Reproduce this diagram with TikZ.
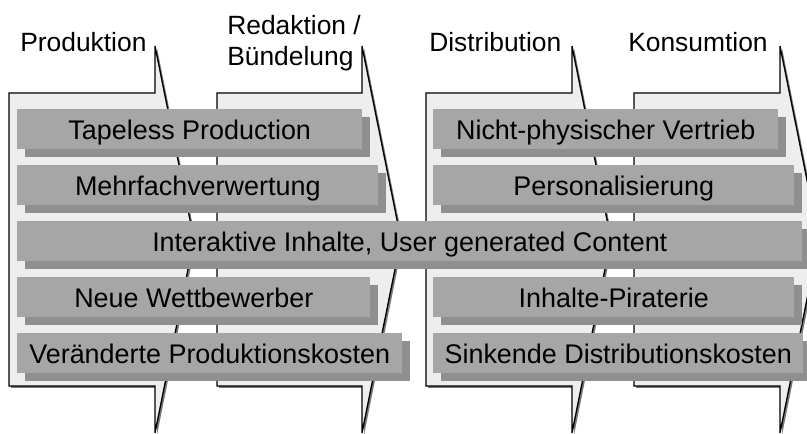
\documentclass[tikz,border=0pt]{standalone}
\usepackage{fontspec}
\setmainfont{Liberation Sans}
\usetikzlibrary{shadows}
\definecolor{stagefill}{RGB}{238,238,238}
\definecolor{stageshadow}{RGB}{120,120,120}
\definecolor{boxfill}{RGB}{166,166,166}
\definecolor{boxshadow}{RGB}{143,143,143}
\newcommand\stageshape[2]{%
  \fill[stageshadow, shift={(2,2)}] (#1,93) -- (#2,93) -- (#2,46) -- ({#2+39},239.5) -- (#2,433) -- (#2,386) -- (#1,386) -- cycle;
  \draw[fill=stagefill, line width=1pt, line join=miter] (#1,93) -- (#2,93) -- (#2,46) -- ({#2+39},239.5) -- (#2,433) -- (#2,386) -- (#1,386) -- cycle;}
\begin{document}
\begin{tikzpicture}[x=0.75pt,y=-0.75pt,
  lbl/.style={font=\fontsize{19.8}{23}\selectfont, inner sep=0pt, anchor=base west},
  itembox/.style={rectangle, fill=boxfill, inner sep=0pt, anchor=north west,
    minimum height=29.625pt, text height=22.875pt, text depth=6.75pt,
    font=\fontsize{20.2}{23}\selectfont,
    drop shadow={shadow xshift=6pt, shadow yshift=-6pt, opacity=1, fill=boxshadow}}]
\useasboundingbox (0,0) rectangle (807,434);
\clip (0,0) rectangle (807,434);
\fill[white] (0,0) rectangle (807,434);
% stages
\stageshape{9}{155}
\stageshape{217}{362}
\stageshape{426}{572}
\stageshape{634}{780}
% stage labels
\node[lbl] (produktion) at (20,52) {Produktion};
\node[lbl] (redaktion) at (227,35) {Redaktion /};
\node[lbl] (buendelung) at (227,66) {Bündelung};
\node[lbl] (distribution) at (429,52) {Distribution};
\node[lbl] (konsumtion) at (628,52) {Konsumtion};
% left column
\node[itembox, minimum width=258.75pt] (tapeless) at (17,109) {Tapeless Production};
\node[itembox, minimum width=270.75pt] (mehrfach) at (17,165) {Mehrfachverwertung};
\node[itembox, minimum width=588.75pt] (interaktiv) at (17,221) {Interaktive Inhalte, User generated Content};
\node[itembox, minimum width=264.75pt] (neue) at (17,277) {Neue Wettbewerber};
\node[itembox, minimum width=288.75pt] (veraendert) at (17,333) {Veränderte Produktionskosten};
% right column
\node[itembox, minimum width=258.75pt] (vertrieb) at (433,109) {Nicht-physischer Vertrieb};
\node[itembox, minimum width=270.75pt] (personal) at (433,165) {Personalisierung};
\node[itembox, minimum width=270.75pt] (piraterie) at (433,277) {Inhalte-Piraterie};
\node[itembox, minimum width=277.5pt] (sinkend) at (433,333) {Sinkende Distributionskosten};
\end{tikzpicture}
\end{document}
